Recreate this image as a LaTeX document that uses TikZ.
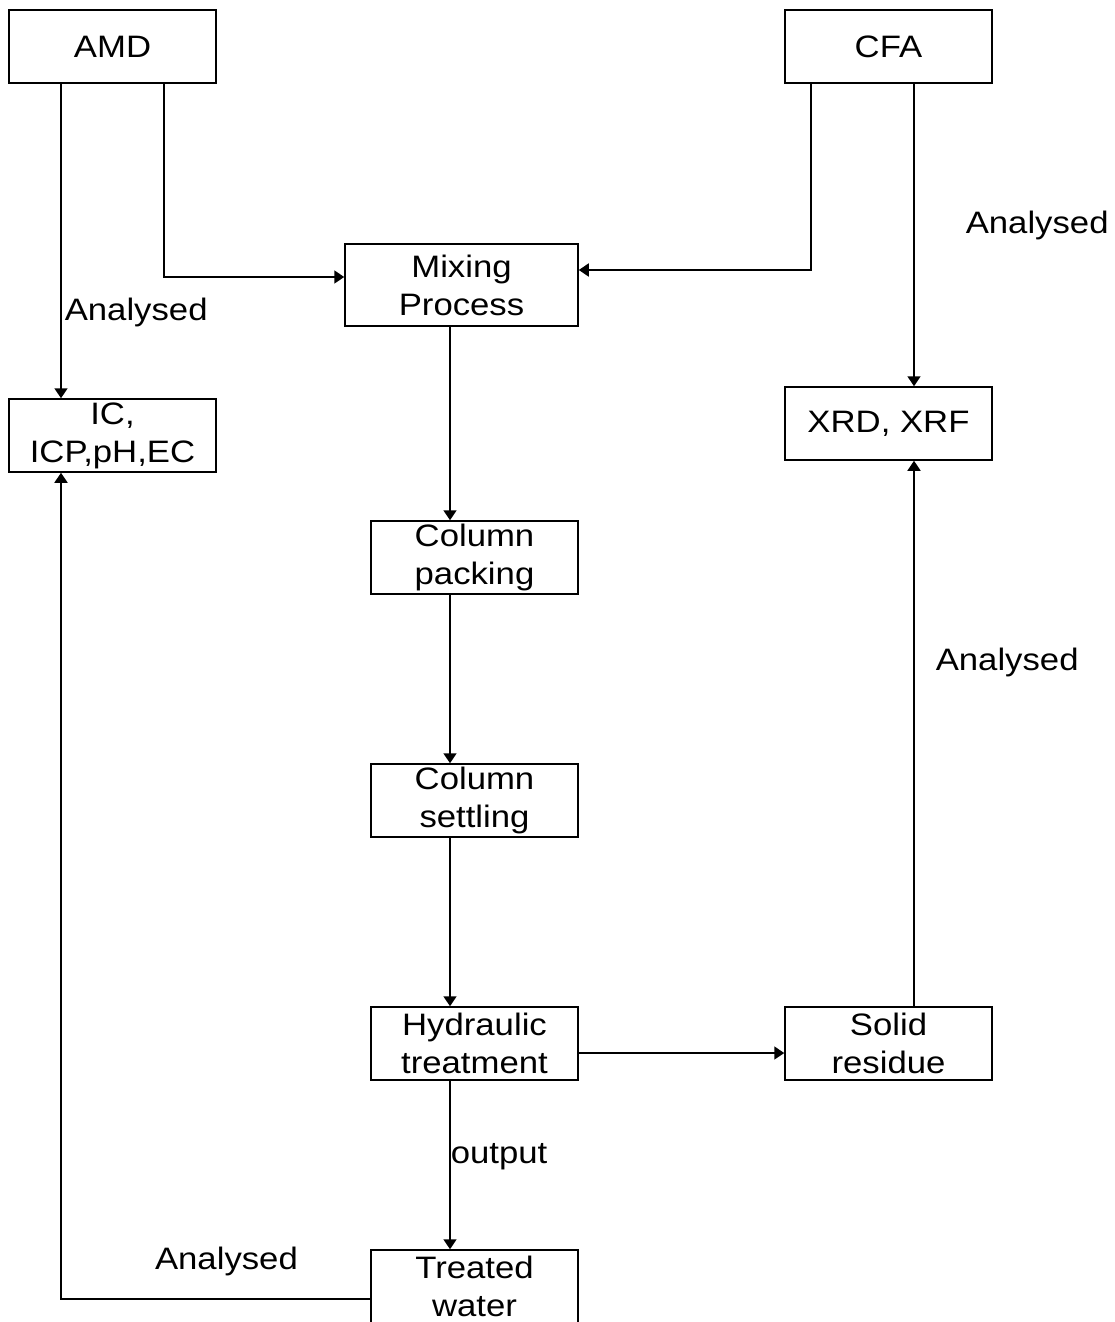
\documentclass[tikz,border=0pt]{standalone}
\usepackage{fontspec}
\setmainfont{Liberation Sans}[FakeStretch=1.12]
\usetikzlibrary{positioning,arrows.meta}

\begin{document}
\begin{tikzpicture}[x=1pt, y=-1pt, ->, >={Triangle[length=10pt,width=13pt]}, line width=1.5pt,
  font=\fontsize{31}{38}\selectfont,
  box/.style={rectangle, draw, align=center, inner sep=0pt, minimum width=207pt, minimum height=73pt},
  lbl/.style={inner sep=0pt}]

  \useasboundingbox (0,0) rectangle (1115,1322);

  % Define nodes
  \node[box] (amd) at (112.5,46.5) {AMD};
  \node[box] (cfa) at (888.5,46.5) {CFA};
  \node[box, minimum width=233pt, minimum height=82pt] (mix) at (461.5,285) {Mixing\\Process};
  \node[box] (ic) at (112.5,435.5) {IC,\\ICP,pH,EC};
  \node[box] (xr) at (888.5,423.5) {XRD, XRF};
  \node[box] (pack) at (474.5,557.5) {Column\\packing};
  \node[box] (settle) [below=168.5pt of pack] {Column\\settling};
  \node[box] (hyd) [below=168.5pt of settle] {Hydraulic\\treatment};
  \node[box] (treat) [below=168.5pt of hyd] {Treated\\water};
  \node[box] (solid) [right=205.5pt of hyd] {Solid\\residue};

  % Line positions
  \coordinate (amdL) at (61,0);
  \coordinate (cfaR) at (914,0);
  \coordinate (midx) at (450,0);
  \coordinate (amdturn) at (164,277);
  \coordinate (cfaturn) at (811,270);
  \coordinate (sidey) at (0,1053);
  \coordinate (backturn) at (61,1299);

  % Define edges
  \draw (amd.south -| amdL) -- node[lbl, pos=0.728, anchor=west, xshift=3pt] {Analysed} (ic.north -| amdL);
  \draw (amd.south -| amdturn) -- (amdturn) -- (amdturn -| mix.west);
  \draw (cfa.south -| cfaturn) -- (cfaturn) -- (cfaturn -| mix.east);
  \draw (cfa.south -| cfaR) -- node[lbl, pos=0.467, anchor=west, xshift=51pt] {Analysed} (xr.north -| cfaR);
  \draw (mix.south -| midx) -- (pack.north -| midx);
  \draw (pack.south -| midx) -- (settle.north -| midx);
  \draw (settle.south -| midx) -- (hyd.north -| midx);
  \draw (hyd.south -| midx) -- node[lbl, pos=0.453, anchor=west] {output} (treat.north -| midx);
  \draw (hyd.east |- sidey) -- (solid.west |- sidey);
  \draw (solid.north -| cfaR) -- node[lbl, pos=0.631, anchor=west, xshift=21pt] {Analysed} (xr.south -| cfaR);
  \draw (backturn -| treat.west) -- node[lbl, pos=0.465, yshift=38pt] {Analysed} (backturn) -- (ic.south -| backturn);
\end{tikzpicture}
\end{document}
